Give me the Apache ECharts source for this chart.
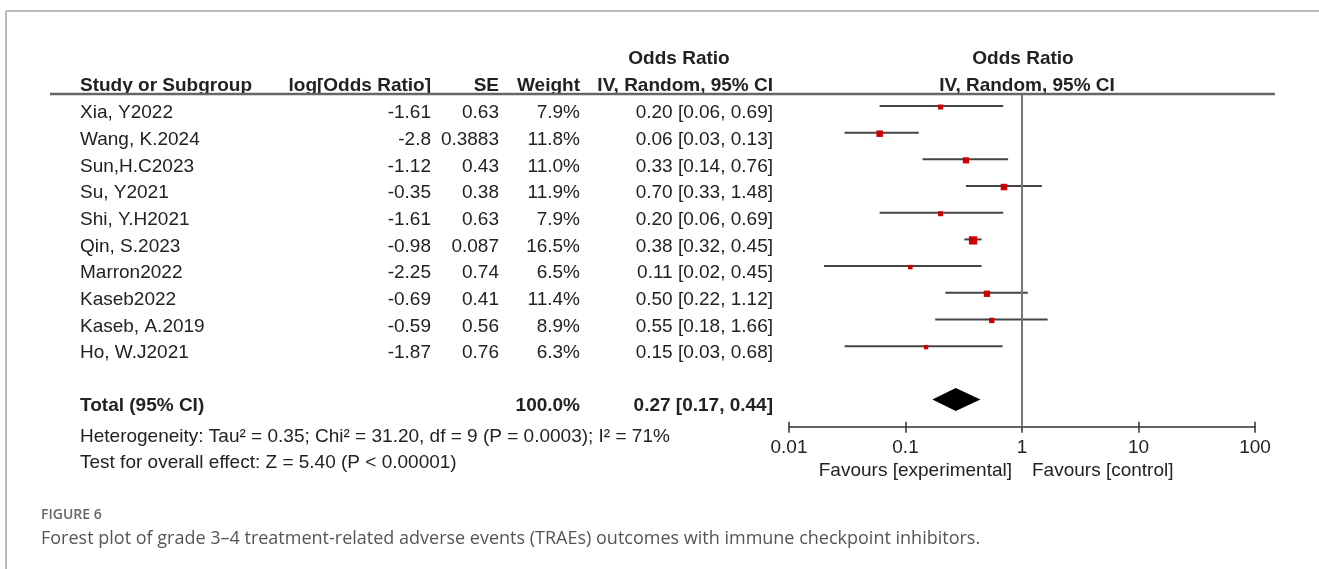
<!DOCTYPE html>
<html>
<head>
<meta charset="utf-8">
<script src="https://cdn.jsdelivr.net/npm/echarts@6/dist/echarts.min.js"></script>
<style>
  html, body { margin: 0; padding: 0; background: #fff; }
  #chart { width: 1319px; height: 569px; }
</style>
</head>
<body>
<div id="chart"></div>
<script>
// Study-level data for the forest plot
const studies = ['Xia, Y2022', 'Wang, K.2024', 'Sun,H.C2023', 'Su, Y2021', 'Shi, Y.H2021',
                 'Qin, S.2023', 'Marron2022', 'Kaseb2022', 'Kaseb, A.2019', 'Ho, W.J2021'];
const logOddsRatio = ['-1.61', '-2.8', '-1.12', '-0.35', '-1.61', '-0.98', '-2.25', '-0.69', '-0.59', '-1.87'];
const standardErrors = ['0.63', '0.3883', '0.43', '0.38', '0.63', '0.087', '0.74', '0.41', '0.56', '0.76'];
const weights = [7.9, 11.8, 11.0, 11.9, 7.9, 16.5, 6.5, 11.4, 8.9, 6.3];
const oddsRatios = [0.20, 0.06, 0.33, 0.70, 0.20, 0.38, 0.11, 0.50, 0.55, 0.15];
const ciLower = [0.06, 0.03, 0.14, 0.33, 0.06, 0.32, 0.02, 0.22, 0.18, 0.03];
const ciUpper = [0.69, 0.13, 0.76, 1.48, 0.69, 0.45, 0.45, 1.12, 1.66, 0.68];

// Pooled random-effects estimate: OR, lower, upper
const pooled = [0.27, 0.17, 0.44];
const pooledWeight = 100.0;

const xTickLabels = ['0.01', '0.1', '1', '10', '100'];

const heterogeneityText = 'Heterogeneity: Tau\u00b2 = 0.35; Chi\u00b2 = 31.20, df = 9 (P = 0.0003); I\u00b2 = 71%';
const overallEffectText = 'Test for overall effect: Z = 5.40 (P < 0.00001)';
const favoursLeft = 'Favours [experimental]';
const favoursRight = 'Favours [control]';
const figureLabel = 'FIGURE 6';
const figureCaption = 'Forest plot of grade 3\u20134 treatment-related adverse events (TRAEs) outcomes with immune checkpoint inhibitors.';

const TOTAL_ROW = 11;
const FONT = '"Liberation Sans", Arial, sans-serif';
const FS = 19;
const INK = '#222';

const fmtOR = (v) => v.toFixed(2);
const ciLabel = (o, l, h) => `${fmtOR(o)} [${fmtOR(l)}, ${fmtOR(h)}]`;

const studyData = studies.map((s, i) => [i, oddsRatios[i], ciLower[i], ciUpper[i], weights[i]]);
const pooledData = [[TOTAL_ROW, pooled[0], pooled[1], pooled[2]]];

const chart = echarts.init(document.getElementById('chart'), null, { renderer: 'canvas' });

const axisColor = '#333';
const baseX = {
  type: 'log',
  logBase: 10,
  min: 0.01,
  max: 100,
  position: 'bottom',
  splitLine: { show: false },
  minorTick: { show: false }
};

chart.setOption({
  animation: false,
  backgroundColor: '#fff',
  grid: { left: 789, right: 64, top: 94, bottom: 142.3, containLabel: false, outerBoundsMode: 'none' },
  xAxis: [
    Object.assign({}, baseX, {
      axisLine: { show: true, onZero: false, lineStyle: { color: axisColor, width: 1.5 } },
      axisTick: { show: true, inside: false, length: 6, lineStyle: { color: axisColor, width: 1.5 } },
      axisLabel: {
        show: true, margin: 12, fontSize: FS, fontFamily: FONT, color: INK,
        showMinLabel: true, showMaxLabel: true,
        formatter: (v) => xTickLabels[Math.round(Math.log10(v)) + 2]
      }
    }),
    Object.assign({}, baseX, {
      axisLine: { show: false, onZero: false },
      axisTick: { show: true, inside: true, length: 5, lineStyle: { color: axisColor, width: 1.5 } },
      axisLabel: { show: false }
    })
  ],
  yAxis: {
    type: 'value',
    inverse: true,
    min: -0.45,
    max: 12.02,
    show: false
  },
  series: [
    {
      type: 'custom',
      name: 'studies',
      xAxisIndex: 0,
      data: studyData,
      encode: { x: [1, 2, 3], y: 0 },
      renderItem(params, api) {
        const row = api.value(0);
        const c = api.coord([api.value(1), row]);
        const a = api.coord([api.value(2), row]);
        const b = api.coord([api.value(3), row]);
        const s = 2 + api.value(4) * 0.38;
        return {
          type: 'group',
          children: [
            { type: 'line', shape: { x1: a[0], y1: a[1], x2: b[0], y2: b[1] },
              style: { stroke: '#444', lineWidth: 2 } },
            { type: 'rect', shape: { x: c[0] - s / 2, y: c[1] - s / 2 + 1, width: s, height: s },
              style: { fill: '#cc0000' } }
          ]
        };
      },
      markLine: {
        silent: true,
        symbol: 'none',
        label: { show: false },
        lineStyle: { color: '#777', width: 2, type: 'solid' },
        data: [{ xAxis: 1 }]
      }
    },
    {
      type: 'custom',
      name: 'pooled',
      xAxisIndex: 0,
      data: pooledData,
      encode: { x: [1, 2, 3], y: 0 },
      renderItem(params, api) {
        const row = api.value(0);
        const c = api.coord([api.value(1), row]);
        const a = api.coord([api.value(2), row]);
        const b = api.coord([api.value(3), row]);
        const h = 11.5;
        return {
          type: 'polygon',
          shape: { points: [[a[0], c[1]], [c[0], c[1] - h], [b[0], c[1]], [c[0], c[1] + h]] },
          style: { fill: '#000' }
        };
      }
    }
  ]
});

// Table text and frame, placed on the rows of the plot's y scale
const rowY = (r) => chart.convertToPixel({ yAxisIndex: 0 }, r);
const COL = { study: 80, logOR: 431, se: 499, weight: 580, ci: 773 };

function txt(x, y, s, align, bold) {
  return {
    type: 'text', x, y, silent: true,
    style: {
      text: s, fill: INK, font: `${bold ? 'bold ' : ''}${FS}px ${FONT}`,
      textAlign: align || 'left', textVerticalAlign: 'middle'
    }
  };
}

const g = [];
// frame
g.push({ type: 'line', shape: { x1: 6, y1: 11, x2: 1319, y2: 11 }, style: { stroke: '#bbb', lineWidth: 2 } });
g.push({ type: 'line', shape: { x1: 6, y1: 11, x2: 6, y2: 569 }, style: { stroke: '#bbb', lineWidth: 2 } });

// header
g.push(txt(679, 59, 'Odds Ratio', 'center', true));
g.push(txt(1023, 59, 'Odds Ratio', 'center', true));
g.push(txt(COL.study, 86, 'Study or Subgroup', 'left', true));
g.push(txt(COL.logOR, 86, 'log[Odds Ratio]', 'right', true));
g.push(txt(COL.se, 86, 'SE', 'right', true));
g.push(txt(COL.weight, 86, 'Weight', 'right', true));
g.push(txt(COL.ci, 86, 'IV, Random, 95% CI', 'right', true));
g.push(txt(1027, 86, 'IV, Random, 95% CI', 'center', true));
const headerY = rowY(-0.45);
g.push({ type: 'line', z: 10, shape: { x1: 50, y1: headerY, x2: 1275, y2: headerY },
         style: { stroke: '#666', lineWidth: 2.5 } });

// study rows
studies.forEach((s, i) => {
  const y = rowY(i) + 7;
  g.push(txt(COL.study, y, s, 'left'));
  g.push(txt(COL.logOR, y, logOddsRatio[i], 'right'));
  g.push(txt(COL.se, y, standardErrors[i], 'right'));
  g.push(txt(COL.weight, y, weights[i].toFixed(1) + '%', 'right'));
  g.push(txt(COL.ci, y, ciLabel(oddsRatios[i], ciLower[i], ciUpper[i]), 'right'));
});

// pooled row
const ty = rowY(TOTAL_ROW) + 6;
g.push(txt(COL.study, ty, 'Total (95% CI)', 'left', true));
g.push(txt(COL.weight, ty, pooledWeight.toFixed(1) + '%', 'right', true));
g.push(txt(COL.ci, ty, ciLabel(pooled[0], pooled[1], pooled[2]), 'right', true));
g.push(txt(COL.study, 437, heterogeneityText, 'left'));
g.push(txt(COL.study, 463, overallEffectText, 'left'));

// favours labels under the axis
const oneX = chart.convertToPixel({ xAxisIndex: 0 }, 1);
g.push(txt(oneX - 10, 471, favoursLeft, 'right'));
g.push(txt(oneX + 10, 471, favoursRight, 'left'));

// figure caption
g.push({ type: 'text', x: 41, y: 515, silent: true,
         style: { text: figureLabel, fill: '#666', font: '600 14px "Open Sans", sans-serif',
                  textAlign: 'left', textVerticalAlign: 'middle' } });
g.push({ type: 'text', x: 41, y: 539, silent: true,
         style: { text: figureCaption, fill: '#555', font: '18px "Open Sans", sans-serif',
                  textAlign: 'left', textVerticalAlign: 'middle' } });

chart.setOption({ graphic: g });
</script>
</body>
</html>
